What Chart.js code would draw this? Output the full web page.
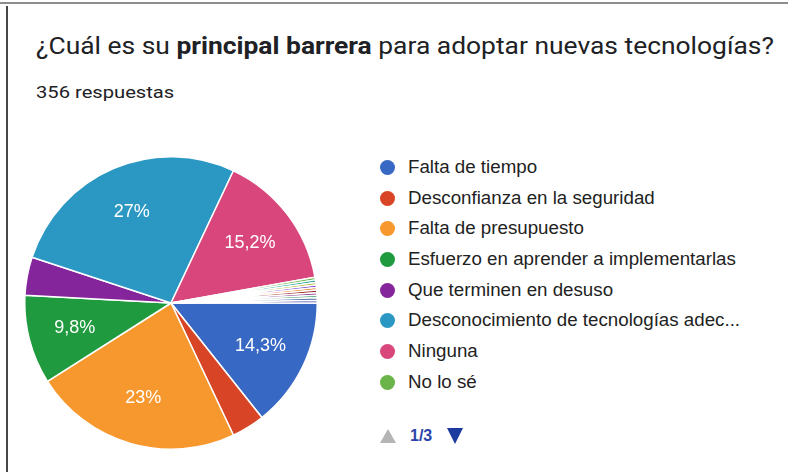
<!DOCTYPE html>
<html>
<head>
<meta charset="utf-8">
<script src="https://cdn.jsdelivr.net/npm/chart.js@4"></script>
<style>
  html, body { margin: 0; padding: 0; background: #fff; }
  body { width: 788px; height: 472px; position: relative; overflow: hidden; }
  #frameTop { position: absolute; left: 0; top: 2px; width: 788px; height: 2px; background: #8d8d8d; }
  #frameLeft { position: absolute; left: 6px; top: 6px; width: 2px; height: 466px; background: #474747; }
  #title { position: absolute; left: 36px; top: 32px; font-family: Roboto, sans-serif; font-size: 24px; color: #202124; white-space: nowrap; transform-origin: 0 0; transform: scaleX(1.1); }
  #title b { font-weight: 700; }
  #subtitle { position: absolute; left: 36px; top: 83px; font-family: Roboto, sans-serif; font-size: 16px; color: #202124; transform-origin: 0 0; transform: scaleX(1.26); }
  #chartBox { position: absolute; left: 24px; top: 156px; width: 294px; height: 294px; }
  #legend { position: absolute; left: 380px; top: 152px; font-family: "Liberation Sans", Arial, sans-serif; font-size: 17.5px; color: #222; }
  .item { height: 30.7px; display: flex; align-items: center; white-space: nowrap; }
  .dot { width: 15px; height: 15px; border-radius: 50%; margin-right: 13px; flex: none; }
  .txt { display: inline-block; transform-origin: 0 50%; transform: scaleX(1.07); }
  #pager { position: absolute; left: 380px; top: 427px; font-family: "Liberation Sans", Arial, sans-serif; font-size: 16px; font-weight: 700; color: #2a44a8; display: flex; align-items: center; }
  .up { width: 0; height: 0; border-left: 8px solid transparent; border-right: 8px solid transparent; border-bottom: 14px solid #b5b5b5; margin-right: 14px; }
  .down { width: 0; height: 0; border-left: 8px solid transparent; border-right: 8px solid transparent; border-top: 16px solid #1d3a9e; margin-left: 15px; }
</style>
</head>
<body>
<div id="frameTop"></div>
<div id="frameLeft"></div>
<div id="title">¿Cuál es su <b>principal barrera</b> para adoptar nuevas tecnologías?</div>
<div id="subtitle">356 respuestas</div>
<div id="chartBox"><canvas id="pie"></canvas></div>
<div id="legend"></div>
<div id="pager"><span class="up"></span><span>1/3</span><span class="down"></span></div>
<script>
const labels = [
    'Falta de tiempo',
    'Desconfianza en la seguridad',
    'Falta de presupuesto',
    'Esfuerzo en aprender a implementarlas',
    'Que terminen en desuso',
    'Desconocimiento de tecnologías adecuadas',
    'Ninguna',
    'No lo sé',
    'Otra 1', 'Otra 2', 'Otra 3', 'Otra 4', 'Otra 5', 'Otra 6', 'Otra 7', 'Otra 8', 'Otra 9',
];
const counts = [51, 13, 82, 35, 15, 96, 54, 1, 1, 1, 1, 1, 1, 1, 1, 1, 1];
const colors = [
    '#3768c4', '#d84426', '#f7982e', '#1f9a3e', '#84259b', '#2b98c3', '#d8467b', '#6bb44a',
    '#2aa99a', '#b0b02a', '#6a3ccc', '#e67a1a', '#9b2a2a', '#7a2a80', '#3a9a6a', '#5a78aa', '#4446b0',
];
const total = 356;
const legendRows = 8;

// legend, first page only
const legend = document.getElementById('legend');
labels.slice(0, legendRows).forEach((label, i) => {
    const text = label.length > 37 ? label.slice(0, 35) + '...' : label;
    legend.innerHTML += `<div class="item"><span class="dot" style="background:${colors[i]}"></span><span class="txt">${text}</span></div>`;
});

function pct(v) {
    const p = (v / total) * 100;
    return p.toFixed(1).replace(/\.0$/, '').replace('.', ',') + '%';
}

const sliceLabels = {
    id: 'sliceLabels',
    afterDatasetsDraw(chart) {
        const ctx = chart.ctx;
        const meta = chart.getDatasetMeta(0);
        ctx.save();
        ctx.font = '18px "Liberation Sans", Arial, sans-serif';
        ctx.fillStyle = '#ffffff';
        ctx.textAlign = 'center';
        ctx.textBaseline = 'middle';
        meta.data.forEach((arc, i) => {
            const v = counts[i];
            if (v / total < 0.05) return;
            const mid = (arc.startAngle + arc.endAngle) / 2;
            const r = arc.outerRadius * 0.68;
            ctx.fillText(pct(v), arc.x + Math.cos(mid) * r, arc.y + Math.sin(mid) * r);
        });
        ctx.restore();
    },
};

new Chart(document.getElementById('pie'), {
    type: 'pie',
    data: {
        labels,
        datasets: [{
            data: counts,
            backgroundColor: colors,
            borderColor: '#ffffff',
            borderWidth: 1.5,
        }],
    },
    options: {
        responsive: true,
        maintainAspectRatio: false,
        animation: false,
        rotation: 90,
        layout: { padding: 0 },
        plugins: {
            legend: { display: false },
            tooltip: { enabled: false },
        },
    },
    plugins: [sliceLabels],
});
</script>
</body>
</html>
